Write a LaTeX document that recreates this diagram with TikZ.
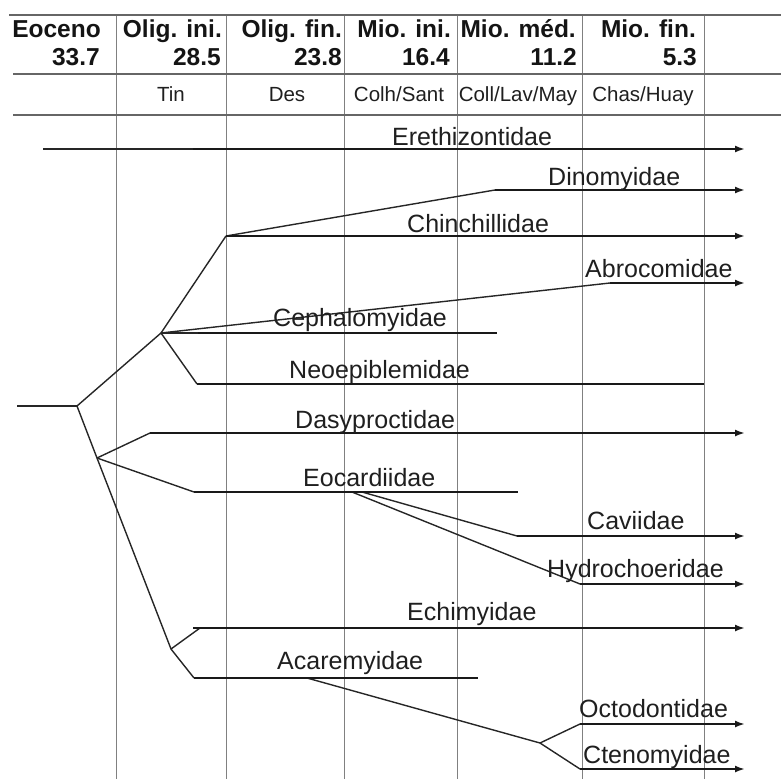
\documentclass[tikz,border=0pt]{standalone}
\usepackage{fontspec}
\setmainfont{Liberation Sans}
\usetikzlibrary{arrows.meta}
\begin{document}
\begin{tikzpicture}[x=1pt,y=-1pt,
  grid/.style={draw=black!50, line width=0.9pt},
  rule/.style={draw=black!60, line width=1.2pt},
  bar/.style={draw=black!90, line width=2.7pt},
  barr/.style={bar, -{Latex[length=10pt,width=7pt]}},
  twig/.style={draw=black!85, line width=1.4pt},
  hd/.style={font=\fontsize{24.5}{26}\selectfont\bfseries, anchor=base east, inner sep=0pt, text=black!92},
  sub/.style={font=\fontsize{20.5}{22}\selectfont, anchor=base, inner sep=0pt, text=black!88},
  tax/.style={font=\fontsize{25}{27}\selectfont, anchor=base west, inner sep=0pt, text=black!88}]
\useasboundingbox (0,0) rectangle (781,781);
% grid
\foreach \x/\n in {116/a,226/b,344/c,457/d,582/e,704/f}{
  \coordinate (vt\n) at (\x,15); \coordinate (vb\n) at (\x,779);
  \draw[grid] (vt\n) -- (vb\n);}
\coordinate (r1l) at (9,15);  \coordinate (r1r) at (781,15);
\coordinate (r2l) at (13,74); \coordinate (r2r) at (781,74);
\coordinate (r3l) at (13,115);\coordinate (r3r) at (781,115);
\draw[rule] (r1l) -- (r1r);
\draw[rule] (r2l) -- (r2r);
\draw[rule] (r3l) -- (r3r);
% header
\node[hd] (h1a) at (101,38) {Eoceno};    \node[hd] (h1b) at (100,66) {33.7};
\node[hd] (h2a) at (222,38) {Olig. ini.};\node[hd] (h2b) at (221,66) {28.5};
\node[hd] (h3a) at (342,38) {Olig. fin.};\node[hd] (h3b) at (342,66) {23.8};
\node[hd] (h4a) at (451,38) {Mio. ini.}; \node[hd] (h4b) at (450,66) {16.4};
\node[hd] (h5a) at (576,38) {Mio. méd.}; \node[hd] (h5b) at (577,66) {11.2};
\node[hd] (h6a) at (696,38) {Mio. fin.}; \node[hd] (h6b) at (697,66) {5.3};
\node[sub] (s2) at (171,102) {Tin};
\node[sub] (s3) at (287,102) {Des};
\node[sub] (s4) at (399,102) {Colh/Sant};
\node[sub] (s5) at (518,102) {Coll/Lav/May};
\node[sub] (s6) at (643,102) {Chas/Huay};
% tree nodes
\coordinate (rootl) at (17,406);
\coordinate (root) at (77,406);
\coordinate (n1) at (161,333);
\coordinate (n2) at (226,236);
\coordinate (n3) at (97,458);
\coordinate (n4) at (171,649);
\coordinate (n5) at (540,743);
\coordinate (ec1) at (352,492);
\coordinate (ec2) at (362,492);
\coordinate (ac1) at (307,678);
% bar ends
\coordinate (ere0) at (43,149); \coordinate (ere1) at (193,149); \coordinate (ere2) at (745,149);
\coordinate (din1) at (495,190); \coordinate (din2) at (745,190);
\coordinate (chi2) at (745,236);
\coordinate (abr1) at (610,283); \coordinate (abr2) at (745,283);
\coordinate (cep1) at (198,333); \coordinate (cep2) at (497,333);
\coordinate (neo1) at (197,384); \coordinate (neo2) at (704,384);
\coordinate (das1) at (150,433); \coordinate (das2) at (745,433);
\coordinate (eoc1) at (194,492); \coordinate (eoc2) at (518,492);
\coordinate (cav1) at (517,536); \coordinate (cav2) at (745,536);
\coordinate (hyd1) at (580,584); \coordinate (hyd2) at (745,584);
\coordinate (ech0) at (200,628); \coordinate (ech1) at (193,628); \coordinate (ech2) at (745,628);
\coordinate (aca1) at (194,678); \coordinate (aca2) at (478,678);
\coordinate (oct1) at (580,724); \coordinate (oct2) at (745,724);
\coordinate (cte1) at (580,769); \coordinate (cte2) at (745,769);
% twigs
\draw[twig] (rootl) -- (root);
\draw[twig] (root) -- (n1);
\draw[twig] (root) -- (n3);
\draw[twig] (n1) -- (n2);
\draw[twig] (ere0) -- (ere1);
\draw[twig] (n2) -- (din1);
\draw[twig] (n1) -- (abr1);
\draw[twig] (n1) -- (cep1);
\draw[twig] (n1) -- (neo1);
\draw[twig] (n3) -- (das1);
\draw[twig] (n3) -- (eoc1);
\draw[twig] (n3) -- (n4);
\draw[twig] (ec2) -- (cav1);
\draw[twig] (ec1) -- (hyd1);
\draw[twig] (n4) -- (ech0);
\draw[twig] (n4) -- (aca1);
\draw[twig] (ac1) -- (n5);
\draw[twig] (n5) -- (oct1);
\draw[twig] (n5) -- (cte1);
% bars
\draw[barr] (ere1) -- (ere2);
\draw[barr] (din1) -- (din2);
\draw[barr] (n2) -- (chi2);
\draw[barr] (abr1) -- (abr2);
\draw[bar] (cep1) -- (cep2);
\draw[bar] (neo1) -- (neo2);
\draw[barr] (das1) -- (das2);
\draw[bar] (eoc1) -- (eoc2);
\draw[barr] (cav1) -- (cav2);
\draw[barr] (hyd1) -- (hyd2);
\draw[barr] (ech1) -- (ech2);
\draw[bar] (aca1) -- (aca2);
\draw[barr] (oct1) -- (oct2);
\draw[barr] (cte1) -- (cte2);
% labels
\node[tax] (lere) at (392,146) {Erethizontidae};
\node[tax] (ldin) at (548,185) {Dinomyidae};
\node[tax] (lchi) at (407,232) {Chinchillidae};
\node[tax] (labr) at (585,277) {Abrocomidae};
\node[tax] (lcep) at (273,326) {Cephalomyidae};
\node[tax] (lneo) at (289,378) {Neoepiblemidae};
\node[tax] (ldas) at (295,428) {Dasyproctidae};
\node[tax] (leoc) at (303,486) {Eocardiidae};
\node[tax] (lcav) at (587,529) {Caviidae};
\node[tax] (lhyd) at (547,577) {Hydrochoeridae};
\node[tax] (lech) at (407,620) {Echimyidae};
\node[tax] (laca) at (277,669) {Acaremyidae};
\node[tax] (loct) at (579,717) {Octodontidae};
\node[tax] (lcte) at (583,763) {Ctenomyidae};
\end{tikzpicture}
\end{document}
